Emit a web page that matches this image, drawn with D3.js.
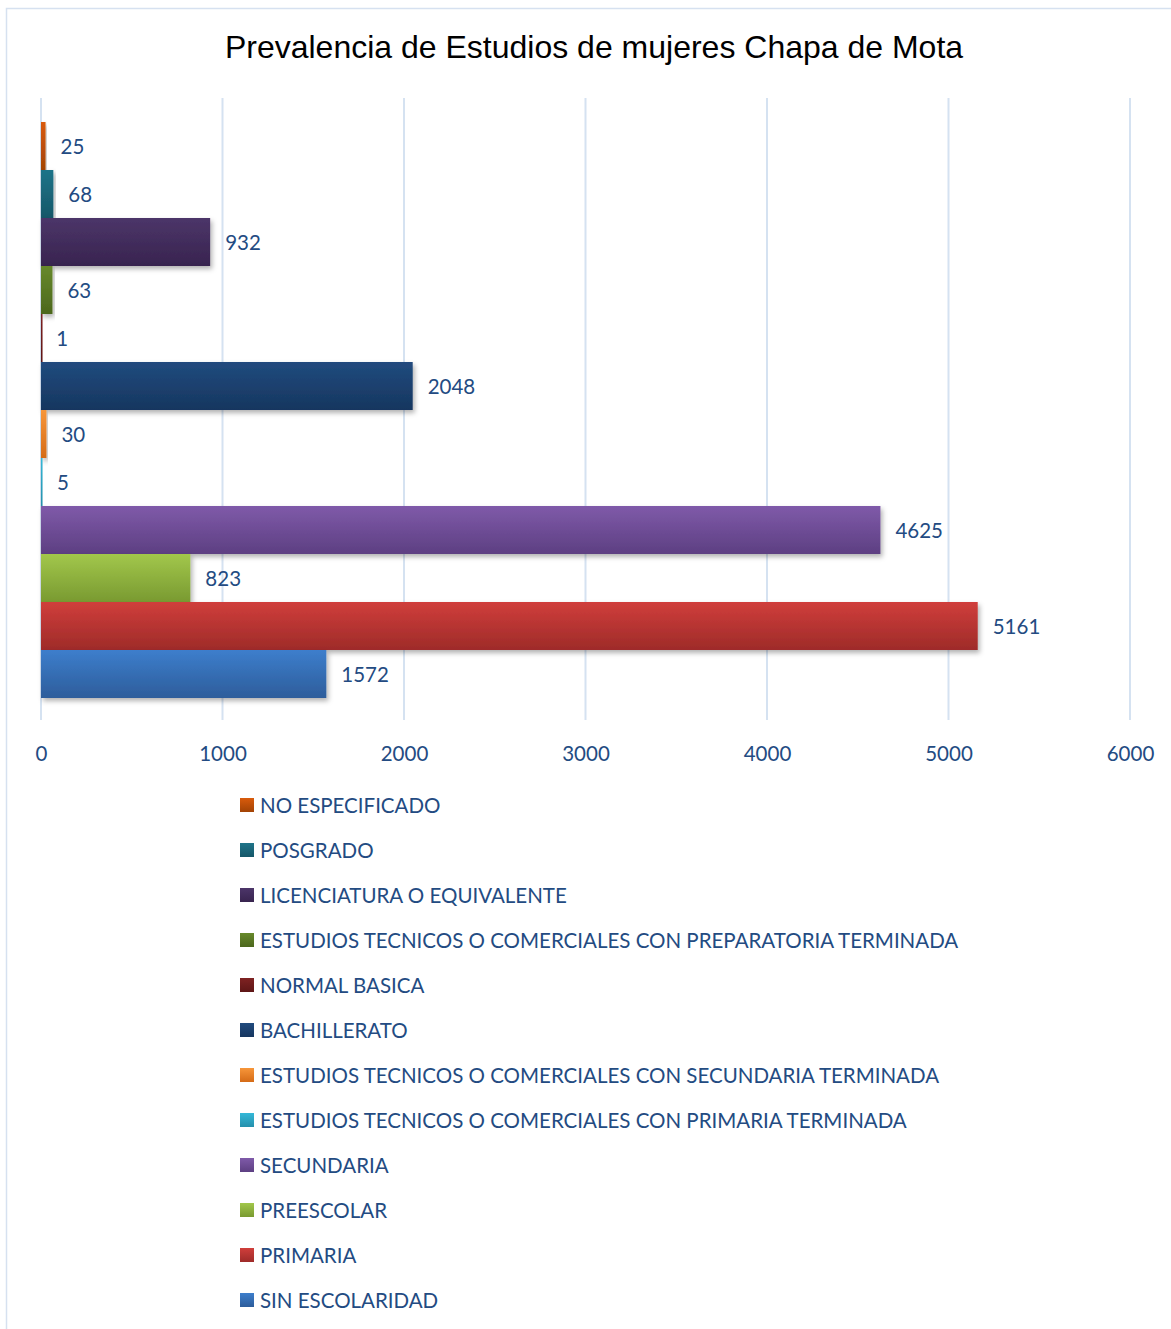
<!DOCTYPE html>
<html>
<head>
<meta charset="utf-8">
<script src="https://cdn.jsdelivr.net/npm/d3@7"></script>
<style>
  html, body { margin: 0; padding: 0; background: #fff; }
  svg { display: block; }
</style>
</head>
<body>
<svg id="chart" width="1171" height="1329"></svg>
<script>
// Education level categories (one series each, drawn top to bottom)
const categories = [
  "NO ESPECIFICADO",
  "POSGRADO",
  "LICENCIATURA O EQUIVALENTE",
  "ESTUDIOS TECNICOS O COMERCIALES CON PREPARATORIA TERMINADA",
  "NORMAL BASICA",
  "BACHILLERATO",
  "ESTUDIOS TECNICOS O COMERCIALES CON SECUNDARIA TERMINADA",
  "ESTUDIOS TECNICOS O COMERCIALES CON PRIMARIA TERMINADA",
  "SECUNDARIA",
  "PREESCOLAR",
  "PRIMARIA",
  "SIN ESCOLARIDAD"
];
// Number of women per level
const values = [25, 68, 932, 63, 1, 2048, 30, 5, 4625, 823, 5161, 1572];
// Bar fill: light (top) and dark (bottom) gradient stops
const colorsTop = ["#d95b0c", "#1f7489", "#4c3569", "#67892b", "#7f2222", "#214b7e",
                   "#f7963a", "#34b8d8", "#7f5aa9", "#a2c74b", "#d03e3b", "#3d7ecc"];
const colorsBottom = ["#a24305", "#165769", "#38244f", "#4c671d", "#5e1616", "#16365f",
                      "#d56b17", "#2590ac", "#5d3f82", "#799a31", "#9e2b29", "#2d5d9b"];
const tickValues = [0, 1000, 2000, 3000, 4000, 5000, 6000];
const title = "Prevalencia de Estudios de mujeres Chapa de Mota";

const svg = d3.select("#chart");
const W = 1171, H = 1329;
const labelColor = "#234b82";
const font = "Lato, 'Open Sans', sans-serif";

// Outer chart frame
svg.append("rect")
  .attr("x", 6.5).attr("y", 8.5)
  .attr("width", W + 10).attr("height", H + 10)
  .attr("fill", "#fff").attr("stroke", "#d6e1f0").attr("stroke-width", 1.5);

const defs = svg.append("defs");
categories.forEach((c, i) => {
  const g = defs.append("linearGradient")
    .attr("id", "grad" + i).attr("x1", 0).attr("y1", 0).attr("x2", 0).attr("y2", 1);
  g.append("stop").attr("offset", "0%").attr("stop-color", colorsTop[i]);
  g.append("stop").attr("offset", "100%").attr("stop-color", colorsBottom[i]);
});
const shadow = defs.append("filter").attr("id", "shadow")
  .attr("x", "-5%").attr("y", "-20%").attr("width", "120%").attr("height", "160%");
shadow.append("feDropShadow")
  .attr("dx", 2).attr("dy", 3).attr("stdDeviation", 2.5)
  .attr("flood-color", "#000").attr("flood-opacity", 0.3);

// Title
svg.append("text")
  .attr("x", 594).attr("y", 58)
  .attr("text-anchor", "middle")
  .attr("font-family", "'Liberation Sans', Arial, sans-serif")
  .attr("font-size", 32)
  .attr("fill", "#000")
  .text(title);

// Scales
const x = d3.scaleLinear().domain([0, 6000]).range([41, 1130]);
const y = d3.scaleBand().domain(categories).range([122, 698]).padding(0);
const plotTop = 98, plotBottom = 720;

// Vertical gridlines
svg.append("g")
  .selectAll("line")
  .data(tickValues)
  .join("line")
  .attr("x1", d => x(d)).attr("x2", d => x(d))
  .attr("y1", plotTop).attr("y2", plotBottom)
  .attr("stroke", "#d5e2f1").attr("stroke-width", 2);

// X axis labels
const axis = d3.axisBottom(x).tickValues(tickValues).tickFormat(d3.format("d"))
  .tickSize(0).tickPadding(0);
const axisG = svg.append("g").attr("transform", `translate(0, 746)`).call(axis);
axisG.select(".domain").remove();
axisG.selectAll("text")
  .attr("font-family", font)
  .attr("font-size", 20.5)
  .attr("fill", labelColor)
  .attr("dy", "0.71em");

// Bars
svg.append("g")
  .selectAll("rect")
  .data(values)
  .join("rect")
  .attr("x", x(0))
  .attr("y", (d, i) => y(categories[i]))
  .attr("width", d => Math.max(x(d) - x(0), 1.5))
  .attr("height", y.bandwidth())
  .attr("fill", (d, i) => `url(#grad${i})`)
  .attr("filter", "url(#shadow)");

// Value labels
svg.append("g")
  .selectAll("text")
  .data(values)
  .join("text")
  .attr("x", d => x(d) + 15)
  .attr("y", (d, i) => y(categories[i]) + y.bandwidth() / 2 + 1)
  .attr("dy", "0.36em")
  .attr("font-family", font)
  .attr("font-size", 20.5)
  .attr("fill", labelColor)
  .text(d => d);

// Legend
const legend = svg.append("g");
const rows = legend.selectAll("g")
  .data(categories)
  .join("g")
  .attr("transform", (d, i) => `translate(240, ${805 + i * 45})`);
rows.append("rect")
  .attr("x", 0).attr("y", -7)
  .attr("width", 14).attr("height", 14)
  .attr("fill", (d, i) => `url(#grad${i})`);
rows.append("text")
  .attr("x", 20).attr("y", 1)
  .attr("dy", "0.36em")
  .attr("font-family", font)
  .attr("font-size", 20.5)
  .attr("fill", labelColor)
  .text(d => d);
</script>
</body>
</html>
